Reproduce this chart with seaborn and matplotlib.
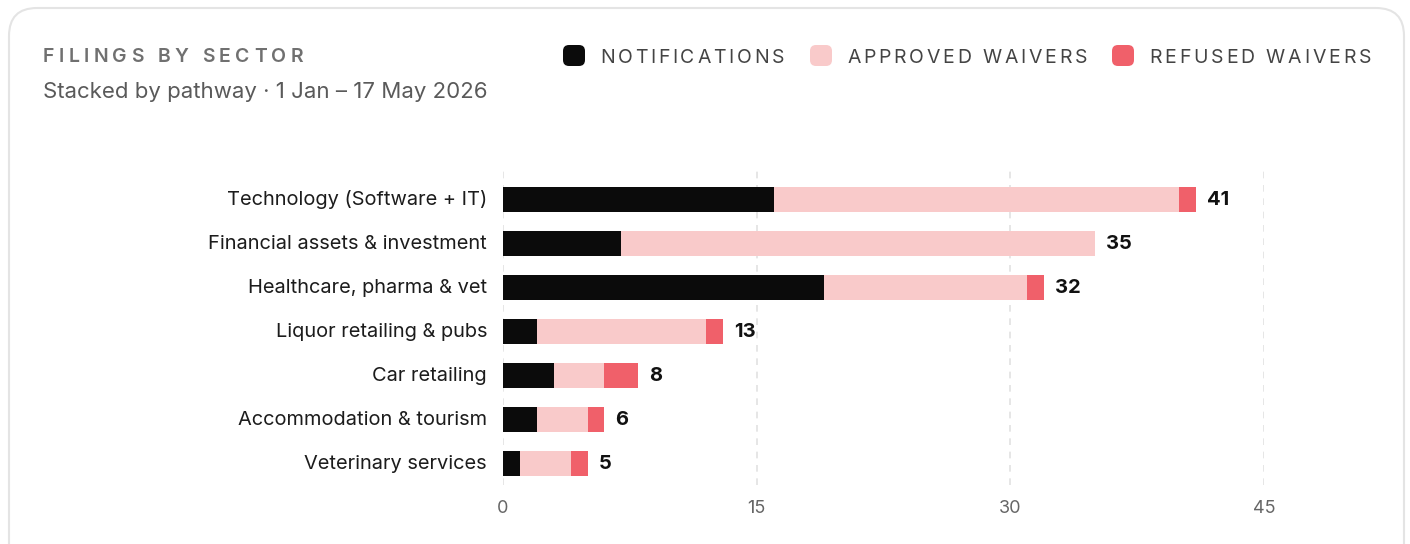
import numpy as np
import pandas as pd
import matplotlib
matplotlib.use("Agg")
import matplotlib.pyplot as plt
import seaborn as sns
from matplotlib.patches import FancyBboxPatch
from matplotlib.font_manager import FontProperties
from matplotlib.transforms import IdentityTransform, ScaledTranslation

# ---- data ----
sectors = [
    "Technology (Software + IT)",
    "Financial assets & investment",
    "Healthcare, pharma & vet",
    "Liquor retailing & pubs",
    "Car retailing",
    "Accommodation & tourism",
    "Veterinary services",
]
notifications = [16, 7, 19, 2, 3, 2, 1]
approved_waivers = [24, 28, 12, 10, 3, 3, 3]
refused_waivers = [1, 0, 1, 1, 2, 1, 1]
x_ticks = [0, 15, 30, 45]
series_names = ["NOTIFICATIONS", "APPROVED WAIVERS", "REFUSED WAIVERS"]
series_colors = ["#0b0b0b", "#f9caca", "#f0606a"]
title = "FILINGS BY SECTOR"
subtitle = "Stacked by pathway \u00b7 1 Jan \u2013 17 May 2026"

W, H = 1410, 544
sns.set_theme(style="white")
plt.rcParams["font.family"] = ["Inter", "DejaVu Sans"]

fig = plt.figure(figsize=(W / 100, H / 100), dpi=100)
fig.patch.set_facecolor("white")

# card outline
card = FancyBboxPatch((9, -40), 1395, 536 + 40, boxstyle="round,pad=0,rounding_size=28",
                      transform=IdentityTransform(), facecolor="white",
                      edgecolor="#e4e4e4", linewidth=1.5, zorder=-5)
fig.patches.append(card)

def fx(px):
    return px / W

def fy(py):
    return 1 - py / H

ax_left, ax_right, ax_top, ax_bottom = 503, 1264, 170, 485
ax = fig.add_axes([fx(ax_left), fy(ax_bottom), (ax_right - ax_left) / W, (ax_bottom - ax_top) / H])
ax.set_facecolor("none")
ax.set_zorder(2)

df = pd.DataFrame({
    "sector": sectors,
    "notifications": notifications,
    "approved": approved_waivers,
    "refused": refused_waivers,
})
df["na"] = df["notifications"] + df["approved"]
df["total"] = df["na"] + df["refused"]

bw = 0.57
for col, c in [("total", series_colors[2]), ("na", series_colors[1]), ("notifications", series_colors[0])]:
    sns.barplot(data=df, y="sector", x=col, order=sectors, color=c, width=bw,
                saturation=1, errorbar=None, linewidth=0, orient="y", ax=ax)

for i, t in enumerate(df["total"]):
    ax.annotate(str(t), xy=(t, i), xytext=(8, 0), textcoords="offset points",
                va="center", ha="left", fontsize=14.5, fontweight="bold", color="#111111")

ax.set_xlim(0, 45)
ax.set_ylim(6.48, -0.68)
ax.set_xticks(x_ticks)
ax.set_xticklabels([str(v) for v in x_ticks])
ax.set_xlabel("")
ax.set_ylabel("")
ax.tick_params(axis="x", length=0, pad=11, labelsize=13, labelcolor="#666666")
ax.tick_params(axis="y", length=0, pad=11.5, labelsize=14.4, labelcolor="#1c1c1c")
ax.grid(axis="x", linestyle=(0, (4, 4)), color="#e2e2e2", linewidth=1.2)
ax.grid(axis="y", visible=False)
ax.set_axisbelow(True)
for s in ax.spines.values():
    s.set_visible(False)

shift = ScaledTranslation(0, 2 / 100, fig.dpi_scale_trans)
for lab in ax.get_yticklabels():
    lab.set_transform(lab.get_transform() + shift)

renderer = fig.canvas.get_renderer()

def tracked(x0, x1, baseline_top, text, size, color, weight="normal"):
    prop = FontProperties(family=["Inter", "DejaVu Sans"], size=size, weight=weight)
    widths = [renderer.get_text_width_height_descent(ch, prop, ismath=False)[0] for ch in text]
    n = len(text)
    track = ((x1 - x0) - sum(widths)) / max(n - 1, 1)
    x = x0
    for ch, w in zip(text, widths):
        fig.text(fx(x), fy(baseline_top), ch, fontproperties=prop, color=color,
                 ha="left", va="baseline")
        x += w + track

tracked(43, 303, 62, title, 14, "#707070", weight="semibold")
fig.text(fx(43), fy(98), subtitle, fontsize=16, color="#5a5a5a", ha="left", va="baseline")

legend_items = [
    (563, 600, 784),
    (810, 847, 1087),
    (1112, 1149, 1371),
]
for (sx, tx0, tx1), name, c in zip(legend_items, series_names, series_colors):
    sq = FancyBboxPatch((sx, H - 66), 22, 21, boxstyle="round,pad=0,rounding_size=6",
                        transform=IdentityTransform(), facecolor=c, edgecolor="none", zorder=2)
    fig.patches.append(sq)
    tracked(tx0, tx1, 63, name, 14, "#444444")

fig.savefig("out.png", dpi=100, facecolor="white")
